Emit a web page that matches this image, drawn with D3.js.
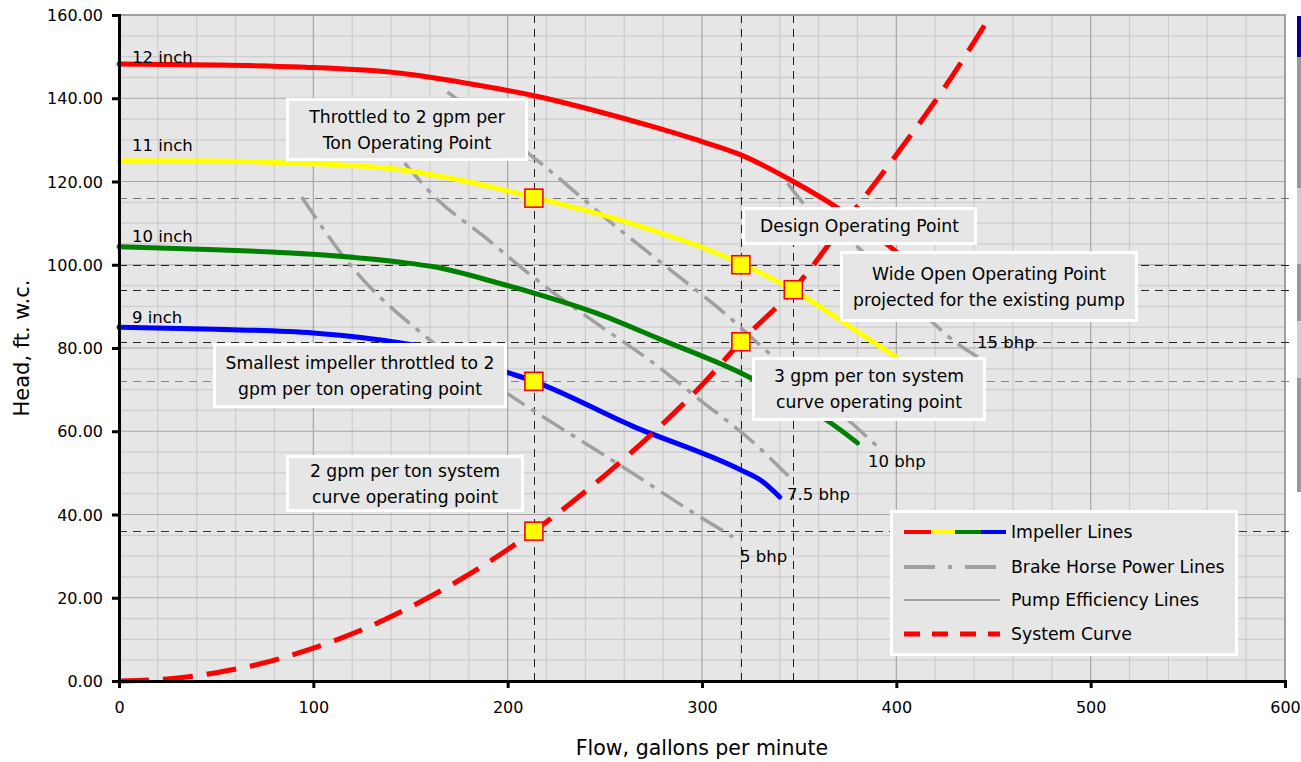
<!DOCTYPE html>
<html><head><meta charset="utf-8">
<script src="https://cdn.jsdelivr.net/npm/d3@7"></script>
<style>
html,body{margin:0;padding:0;background:#fff;}
svg{display:block;font-family:"DejaVu Sans",Verdana,sans-serif;}
</style></head>
<body>
<svg id="c" width="1301" height="762"></svg>
<script>
// ---------- data ----------
const xTicks = [0,100,200,300,400,500,600];
const yTicks = [0,20,40,60,80,100,120,140,160];

const impeller12 = [[0,148.2],[50,148.0],[93,147.5],[145,146.0],[179,143.6],[213.5,140.6],[250,136.4],[273,133.4],[300,129.6],[320,126.4],[347,120.0],[370,113.6],[385,108.7],[400,103.1]];
const impeller11 = [[0,125.0],[50,124.9],[93,124.4],[145,122.8],[179,120.0],[213.5,116.2],[263,110.0],[320,100.3],[347,93.9],[375,85.5],[400,77.8]];
const impeller10 = [[0,104.3],[50,103.6],[100,102.5],[145,100.6],[162,99.5],[196,95.5],[213.5,93.2],[245,88.5],[278,82.2],[320,74.0],[350,66.5],[364,62.7],[380,57.2]];
const impeller9  = [[0,85.0],[50,84.5],[100,83.6],[145,81.2],[170,79.0],[198,74.4],[213.5,72.0],[264,61.3],[320,50.7],[330,48.3],[340,44.2]];
const impellerNames = ["12 inch","11 inch","10 inch","9 inch"];
const impellerColors = ["#ff0000","#ffff00","#008000","#0000ff"];

const bhp5   = [[94,116.3],[117,101.1],[162,81.2],[201,68.7],[264,50.0],[299,39.4],[316,34.6]];
const bhp75  = [[147,124.4],[164,115.6],[187,107.1],[217,95.6],[247,85.5],[273,77.1],[299,67.5],[325,57.9],[345,49.0]];
const bhp10  = [[169,141.5],[217,124.4],[258,108.3],[285,98.3],[314,87.4],[331,80.2],[381,60.3],[391,56.0]];
const bhp15  = [[344,119.6],[352,114.8],[380,104.3],[419,86.0],[431,81.2],[442,77.8]];
const bhpNames = ["5 bhp","7.5 bhp","10 bhp","15 bhp"];

const systemCurve = [[0,0],[25,0.5],[50,2.0],[75,4.4],[100,7.9],[125,12.3],[150,17.8],[175,24.2],[200,31.6],[213.5,36.0],[250,49.4],[275,59.7],[300,71.1],[320,81.5],[347,94.0],[375,111.0],[400,126.4],[425,142.7],[450,161.0]];

const refFlows = [213.5,320,347];
const refHeads = [116,100,94,81.5,72,36];
const opPoints = [[213.5,116],[320,100],[347,94],[320,81.5],[213.5,72],[213.5,36]];

const boxTexts = [
  ["Throttled to 2 gpm per","Ton Operating Point"],
  ["Design Operating Point"],
  ["Wide Open Operating Point","projected for the existing pump"],
  ["3 gpm per ton system","curve operating point"],
  ["Smallest impeller throttled to 2","gpm per ton operating point"],
  ["2 gpm per ton system","curve operating point"]
];
const legendNames = ["Impeller Lines","Brake Horse Power Lines","Pump Efficiency Lines","System Curve"];

// ---------- chart ----------
const svg = d3.select("#c");
const L=119, R=1285, T=15, B=681;
const x = d3.scaleLinear().domain([0,600]).range([L,R]);
const y = d3.scaleLinear().domain([0,160]).range([B,T]);

svg.append("rect").attr("x",L).attr("y",T).attr("width",R-L).attr("height",B-T).attr("fill","#e6e6e6");

const g = svg.append("g");
g.selectAll(".mx").data(d3.range(20,600,20).filter(v=>v%100)).join("line")
  .attr("x1",d=>x(d)).attr("x2",d=>x(d)).attr("y1",T).attr("y2",B)
  .attr("stroke","#cdcdcd").attr("stroke-width",1.2);
g.selectAll(".my").data(d3.range(5,160,5).filter(v=>v%20)).join("line")
  .attr("y1",d=>y(d)).attr("y2",d=>y(d)).attr("x1",L).attr("x2",R)
  .attr("stroke","#cdcdcd").attr("stroke-width",1.2);
g.selectAll(".Mx").data(xTicks.slice(1,-1)).join("line")
  .attr("x1",d=>x(d)).attr("x2",d=>x(d)).attr("y1",T).attr("y2",B)
  .attr("stroke","#a6a6a6").attr("stroke-width",1.2);
g.selectAll(".My").data(yTicks.slice(1,-1)).join("line")
  .attr("y1",d=>y(d)).attr("y2",d=>y(d)).attr("x1",L).attr("x2",R)
  .attr("stroke","#a6a6a6").attr("stroke-width",1.2);
svg.append("path").attr("d",`M${L},${T}H${R}V${B}`).attr("fill","none").attr("stroke","#a0a0a0").attr("stroke-width",2);

const hColors = ["#777","#222","#222","#222","#8a8a62","#333"];
svg.selectAll(".rh").data(refHeads).join("line")
  .attr("x1",L).attr("x2",1294).attr("y1",d=>Math.round(y(d))+0.5).attr("y2",d=>Math.round(y(d))+0.5)
  .attr("stroke",(d,i)=>hColors[i]).attr("stroke-width",1).attr("stroke-dasharray","8,6");
svg.selectAll(".rv").data(refFlows).join("line")
  .attr("x1",d=>Math.round(x(d))+0.5).attr("x2",d=>Math.round(x(d))+0.5).attr("y1",T).attr("y2",B)
  .attr("stroke","#222").attr("stroke-width",1).attr("stroke-dasharray","8,6");

const line = d3.line().x(d=>x(d[0])).y(d=>y(d[1])).curve(d3.curveMonotoneX);

const bhpSets=[bhp5,bhp75,bhp10,bhp15];
svg.selectAll(".bhp").data(bhpSets).join("path")
  .attr("d",line).attr("fill","none").attr("stroke","#a0a0a0").attr("stroke-width",3.5)
  .attr("stroke-dasharray","26,8,5,8");

const impSets=[impeller12,impeller11,impeller10,impeller9];
svg.selectAll(".imp").data(impSets).join("path")
  .attr("d",line).attr("fill","none").attr("stroke",(d,i)=>impellerColors[i]).attr("stroke-width",5)
  .attr("stroke-linecap","round");

svg.append("path").datum(systemCurve).attr("d",line).attr("fill","none")
  .attr("stroke","#ff0000").attr("stroke-width",5).attr("stroke-dasharray","30,14");

svg.append("rect").attr("x",0).attr("y",0).attr("width",1301).attr("height",T-1).attr("fill","#fff");
svg.append("line").attr("x1",L).attr("x2",R).attr("y1",T).attr("y2",T).attr("stroke","#a0a0a0").attr("stroke-width",2);

svg.selectAll(".op").data(opPoints).join("rect")
  .attr("x",d=>x(d[0])-9).attr("y",d=>y(d[1])-9).attr("width",18).attr("height",18)
  .attr("fill","#ffff00").attr("stroke","#ff0000").attr("stroke-width",1.6);

const impLabelPos=[[132,57],[132,145],[132,236],[132,317]];
svg.selectAll(".il").data(impellerNames).join("text")
  .attr("x",(d,i)=>impLabelPos[i][0]).attr("y",(d,i)=>impLabelPos[i][1]+6)
  .attr("font-size",16.5).attr("fill","#000").text(d=>d);

const bhpLabelPos=[[740,562],[787,500],[868,467],[977,348]];
svg.selectAll(".bl").data(bhpNames).join("text")
  .attr("x",(d,i)=>bhpLabelPos[i][0]).attr("y",(d,i)=>bhpLabelPos[i][1])
  .attr("font-size",16.5).attr("fill","#000").text(d=>d);

const boxRects=[[286,98,242,63],[742,207,235,38],[840,251,298,71],[752,357,234,64],[213,343,294,65],[286,455,238,57]];
const boxG = svg.selectAll(".bx").data(boxTexts).join("g");
boxG.append("rect")
  .attr("x",(d,i)=>boxRects[i][0]+1.5).attr("y",(d,i)=>boxRects[i][1]+1.5)
  .attr("width",(d,i)=>boxRects[i][2]-3).attr("height",(d,i)=>boxRects[i][3]-3)
  .attr("fill","#e6e6e6").attr("stroke","#fff").attr("stroke-width",3);
boxG.each(function(d,i){
  const r=boxRects[i], cx=r[0]+r[2]/2, cy=r[1]+r[3]/2;
  const lh=26, n=d.length;
  d3.select(this).selectAll("text").data(d).join("text")
    .attr("x",cx).attr("y",(t,j)=>cy+(j-(n-1)/2)*lh+6)
    .attr("text-anchor","middle").attr("font-size",17.2).attr("fill","#000").text(t=>t);
});

const lg = svg.append("g");
lg.append("rect").attr("x",891.5).attr("y",511.5).attr("width",345).attr("height",143)
  .attr("fill","#e6e6e6").attr("stroke","#fff").attr("stroke-width",3);
const ly=[532,567,600,634];
const segs=[[904,931],[931,955],[955,981],[981,1006]];
segs.forEach((s,i)=>lg.append("line").attr("x1",s[0]).attr("x2",s[1]).attr("y1",ly[0]).attr("y2",ly[0])
  .attr("stroke",impellerColors[i]).attr("stroke-width",4));
lg.append("line").attr("x1",904).attr("x2",998).attr("y1",ly[1]).attr("y2",ly[1])
  .attr("stroke","#a0a0a0").attr("stroke-width",4).attr("stroke-dasharray","31,13,4,13");
lg.append("line").attr("x1",904).attr("x2",1000).attr("y1",ly[2]).attr("y2",ly[2])
  .attr("stroke","#a0a0a0").attr("stroke-width",2);
lg.append("line").attr("x1",904).attr("x2",1000).attr("y1",ly[3]).attr("y2",ly[3])
  .attr("stroke","#ff0000").attr("stroke-width",5).attr("stroke-dasharray","16,12");
lg.selectAll("text").data(legendNames).join("text")
  .attr("x",1011).attr("y",(d,i)=>ly[i]+6).attr("font-size",17.3).attr("fill","#000").text(d=>d);

const xAxis = d3.axisBottom(x).tickValues(xTicks).tickSize(7).tickFormat(d3.format("d"));
const yAxis = d3.axisLeft(y).tickValues(yTicks).tickSize(7).tickFormat(d3.format(".2f"));
const gx = svg.append("g").attr("transform",`translate(0,${B})`).call(xAxis);
const gy = svg.append("g").attr("transform",`translate(${L},0)`).call(yAxis);
[gx,gy].forEach(a=>{
  a.select(".domain").attr("stroke","#000").attr("stroke-width",3);
  a.selectAll(".tick line").attr("stroke","#000").attr("stroke-width",3);
  a.selectAll(".tick text").attr("font-size",16).attr("fill","#000").attr("font-family","DejaVu Sans, sans-serif");
});
gx.selectAll(".tick text").attr("dy","1.35em");
gy.selectAll(".tick text").attr("x",-16).attr("dy","0.35em");

svg.append("text").attr("x",702).attr("y",755).attr("text-anchor","middle").attr("font-size",20.5).text("Flow, gallons per minute");
svg.append("text").attr("transform","translate(29,348) rotate(-90)").attr("text-anchor","middle").attr("font-size",21).text("Head, ft. w.c.");

const sb=[[16,57,"#0000a0"],[57,188,"#999"],[188,264,"#cfcfcf"],[264,321,"#999"],[321,378,"#cfcfcf"],[378,492,"#999"]];
sb.forEach(s=>svg.append("rect").attr("x",1297).attr("y",s[0]).attr("width",4).attr("height",s[1]-s[0]).attr("fill",s[2]));
</script>
</body></html>
